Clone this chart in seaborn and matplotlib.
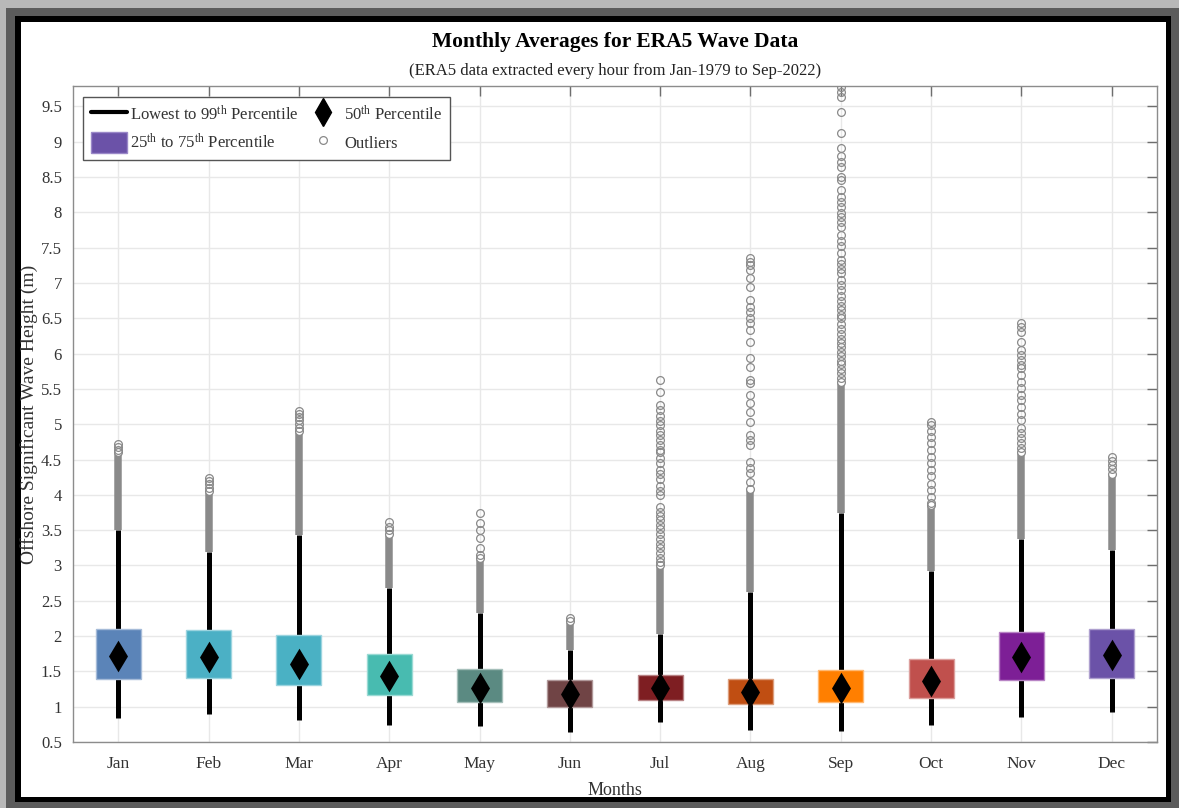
import numpy as np
import pandas as pd
import matplotlib
matplotlib.use("Agg")
import matplotlib.pyplot as plt
from matplotlib.lines import Line2D
from matplotlib.patches import Patch, Rectangle
from matplotlib.colors import to_rgb
import seaborn as sns

# ---- monthly statistics of offshore significant wave height (m) ----
months = ["Jan", "Feb", "Mar", "Apr", "May", "Jun",
          "Jul", "Aug", "Sep", "Oct", "Nov", "Dec"]
p25 = [1.39, 1.40, 1.31, 1.17, 1.06, 0.99, 1.09, 1.04, 1.06, 1.13, 1.38, 1.41]
p75 = [2.10, 2.08, 2.01, 1.75, 1.53, 1.38, 1.45, 1.39, 1.52, 1.67, 2.06, 2.10]
p50 = [1.72, 1.70, 1.61, 1.43, 1.26, 1.18, 1.26, 1.21, 1.26, 1.36, 1.70, 1.73]
lowest = [0.84, 0.89, 0.81, 0.74, 0.72, 0.64, 0.79, 0.67, 0.66, 0.74, 0.85, 0.92]
p99 = [3.50, 3.19, 3.43, 2.68, 2.33, 1.80, 2.03, 2.62, 3.75, 2.92, 3.37, 3.22]

# upper end of the tightly packed run of outliers sitting on each whisker
packed_top = [4.60, 4.05, 4.90, 3.45, 3.10, 2.22, 3.00, 4.08, 5.60, 3.85, 4.60, 4.30]

# individually visible outliers above the packed run
out_jan = [4.64, 4.68, 4.72]
out_feb = [4.10, 4.15, 4.20, 4.24]
out_mar = [4.95, 5.00, 5.06, 5.10, 5.15, 5.19]
out_apr = [3.50, 3.55, 3.61]
out_may = [3.15, 3.25, 3.39, 3.50, 3.60, 3.74]
out_jun = [2.25]
out_jul = [3.05, 3.10, 3.18, 3.25, 3.31, 3.38, 3.45, 3.52, 3.58, 3.64, 3.70,
           3.76, 3.83, 4.00, 4.05, 4.12, 4.23, 4.30, 4.35, 4.45, 4.52, 4.60,
           4.64, 4.71, 4.78, 4.85, 4.90, 4.99, 5.05, 5.11, 5.20, 5.27, 5.46, 5.63]
out_aug = [4.18, 4.31, 4.38, 4.47, 4.71, 4.78, 4.85, 5.03, 5.17, 5.30, 5.41,
           5.58, 5.63, 5.81, 5.94, 6.17, 6.34, 6.43, 6.51, 6.59, 6.66, 6.76,
           6.94, 7.07, 7.19, 7.26, 7.30, 7.36]
out_sep = [5.65, 5.72, 5.78, 5.85, 5.90, 5.97, 6.03, 6.10, 6.15, 6.21, 6.28,
           6.35, 6.42, 6.50, 6.55, 6.62, 6.68, 6.75, 6.82, 6.90, 6.97, 7.04,
           7.14, 7.20, 7.27, 7.33, 7.43, 7.52, 7.60, 7.68, 7.79, 7.86, 7.93,
           7.99, 8.08, 8.15, 8.22, 8.32, 8.46, 8.50, 8.64, 8.72, 8.80, 8.91,
           9.12, 9.42, 9.64, 9.70, 9.78]
out_oct = [3.88, 3.97, 4.07, 4.16, 4.26, 4.35, 4.45, 4.54, 4.64, 4.73, 4.82,
           4.90, 4.99, 5.03]
out_nov = [4.66, 4.73, 4.80, 4.87, 4.94, 5.06, 5.15, 5.25, 5.34, 5.41, 5.51,
           5.60, 5.70, 5.79, 5.84, 5.91, 5.98, 6.05, 6.17, 6.31, 6.38, 6.43]
out_dec = [4.36, 4.42, 4.48, 4.53]

box_colors = ["#5B84B8", "#4BB0C5", "#4AB1C4", "#48BBB0", "#5B8A82", "#704445",
              "#7E1E22", "#C04E12", "#FF7F00", "#C0504D", "#7D1F96", "#6B52A8"]

y_ticks = [0.5, 1, 1.5, 2, 2.5, 3, 3.5, 4, 4.5, 5, 5.5, 6, 6.5, 7, 7.5, 8, 8.5, 9, 9.5]

# ---- style ----
sns.set_style("whitegrid")
plt.rcParams["font.family"] = ["Liberation Serif", "DejaVu Serif"]
plt.rcParams["mathtext.fontset"] = "custom"
plt.rcParams["mathtext.rm"] = "Liberation Serif"
plt.rcParams["mathtext.it"] = "Liberation Serif:italic"

W, H = 1179, 808
fig = plt.figure(figsize=(W / 100, H / 100), dpi=100)
fig.patch.set_facecolor("#b8b8b8")


def px_rect(left, top, right, bottom, color):
    fig.patches.append(Rectangle((left / W, 1 - bottom / H), (right - left) / W,
                                 (bottom - top) / H, transform=fig.transFigure,
                                 facecolor=color, edgecolor="none", zorder=-10))


# layered picture frame
px_rect(6, 8, W, H, "#5c5c5c")
px_rect(15, 16, 1171, 802, "#000000")
px_rect(21, 22, 1166, 797, "#ffffff")

ax = fig.add_axes([73 / W, 1 - 742 / H, 1084 / W, 656 / H])
ax.set_facecolor("white")

pos = np.arange(len(months))
stats = pd.DataFrame({"pos": pos, "month": months, "p25": p25, "p50": p50,
                      "p75": p75, "lowest": lowest, "p99": p99,
                      "packed_top": packed_top})

outliers = [out_jan, out_feb, out_mar, out_apr, out_may, out_jun,
            out_jul, out_aug, out_sep, out_oct, out_nov, out_dec]
out_df = pd.DataFrame({
    "pos": np.concatenate([[p] * len(o) for p, o in zip(pos, outliers)]),
    "height": np.concatenate(outliers),
})

grey = "#8a8a8a"

# whiskers: lowest value to 99th percentile
ax.vlines(stats["pos"], stats["lowest"], stats["p99"], color="black",
          linewidth=3.6, zorder=2)

# packed outliers merge into a solid grey column
ax.vlines(stats["pos"], stats["p99"], stats["packed_top"], color=grey,
          linewidth=5.4, zorder=2)
ax.plot(stats["pos"], stats["packed_top"], linestyle="none", marker="o",
        markersize=5.6, markerfacecolor="white", markeredgecolor=grey,
        markeredgewidth=0.9, zorder=3)

# individually resolved outliers
ax.plot(out_df["pos"], out_df["height"], linestyle="none", marker="o",
        markersize=5.6, markerfacecolor="none", markeredgecolor=grey,
        markeredgewidth=0.9, zorder=3)

# interquartile boxes
edge_cols = [tuple(0.55 * np.array(to_rgb(c)) + 0.45) for c in box_colors]
ax.bar(stats["pos"], stats["p75"] - stats["p25"], bottom=stats["p25"],
       width=0.5, color=box_colors, edgecolor=edge_cols, linewidth=1.0,
       zorder=4)

# medians
sns.scatterplot(data=stats, x="pos", y="p50", marker="d", s=260,
                color="black", edgecolor="black", linewidth=0, zorder=5,
                ax=ax, legend=False)

# ---- axes cosmetics ----
ax.set_xlim(-0.5, len(months) - 0.5)
ax.set_ylim(0.5, 9.79)
ax.set_xticks(pos)
ax.set_xticklabels(months)
ax.set_yticks(y_ticks)
ax.set_yticklabels([f"{t:g}" for t in y_ticks])
ax.grid(True, color="#e8e8e8", linewidth=1.0)
ax.set_axisbelow(True)
ax.tick_params(axis="both", direction="in", length=7, width=1.0,
               color="#6e6e6e", labelsize=12, labelcolor="#333333",
               top=True, right=True, pad=8)
ax.tick_params(axis="x", pad=10, labelsize=12.5)
for sp in ax.spines.values():
    sp.set_color("#8c8c8c")
    sp.set_linewidth(1.0)
    sp.set_visible(True)

ax.set_xlabel("Months", fontsize=13, color="#333333", labelpad=7)
ax.set_ylabel("Offshore Significant Wave Height (m)", fontsize=14,
              color="#333333")
ax.yaxis.set_label_coords(-35 / 1084, 0.5)

fig.text(615 / W, 1 - 42 / H, "Monthly Averages for ERA5 Wave Data",
         ha="center", va="center", fontsize=15.5, fontweight="bold",
         color="black")
fig.text(615 / W, 1 - 71 / H,
         "(ERA5 data extracted every hour from Jan-1979 to Sep-2022)",
         ha="center", va="center", fontsize=12, color="#222222")

handles = [
    Line2D([], [], color="black", linewidth=3),
    Patch(facecolor="#6B52A8", edgecolor="#9a88c8"),
    Line2D([], [], linestyle="none", marker="d", markersize=14,
           color="black"),
    Line2D([], [], linestyle="none", marker="o", markersize=5.6,
           markerfacecolor="none", markeredgecolor=grey, markeredgewidth=0.9),
]
labels = [
    r"Lowest to 99$^{\mathrm{th}}$ Percentile",
    r"25$^{\mathrm{th}}$ to 75$^{\mathrm{th}}$ Percentile",
    r"50$^{\mathrm{th}}$ Percentile",
    "Outliers",
]
leg = ax.legend(handles, labels, ncol=2, loc="upper left",
                bbox_to_anchor=(10 / 1084, 1 - 11 / 656), borderaxespad=0,
                fontsize=12, frameon=True,
                fancybox=False, edgecolor="#555555", framealpha=1,
                handlelength=2.2, handleheight=1.5, columnspacing=0.4,
                borderpad=0.45, labelspacing=0.45, handletextpad=0.15)
leg.get_frame().set_linewidth(1.0)
for t in leg.get_texts():
    t.set_color("#333333")

fig.savefig("out.png", dpi=100, facecolor=fig.get_facecolor())
